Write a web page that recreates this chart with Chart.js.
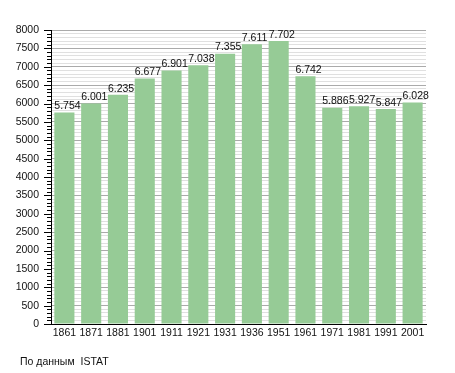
<!DOCTYPE html>
<html>
<head>
<meta charset="utf-8">
<style>
html,body{margin:0;padding:0;background:#fff;}
canvas{display:block;}
</style>
<script src="https://cdn.jsdelivr.net/npm/chart.js@4/dist/chart.umd.min.js"></script>
</head>
<body>
<canvas id="c" width="455" height="373"></canvas>
<script>
const years = ["1861","1871","1881","1901","1911","1921","1931","1936","1951","1961","1971","1981","1991","2001"];
const population = [5754, 6001, 6235, 6677, 6901, 7038, 7355, 7611, 7702, 6742, 5886, 5927, 5847, 6028];
const yTickValues = [0,500,1000,1500,2000,2500,3000,3500,4000,4500,5000,5500,6000,6500,7000,7500,8000];
const sourceNote = "По данным  ISTAT";

const FONT = "'Liberation Sans', Arial, sans-serif";
const fmt = v => { const s = String(v); return s.length > 3 ? s.slice(0, s.length-3) + "." + s.slice(-3) : s; };

const extras = {
  id: 'extras',
  afterDraw(chart) {
    const ctx = chart.ctx, y = chart.scales.y, area = chart.chartArea;
    ctx.save();
    // tick marks
    ctx.strokeStyle = '#000';
    ctx.lineWidth = 1;
    for (let v = 0; v <= 8000; v += 100) {
      const py = Math.round(y.getPixelForValue(v)) + 0.5;
      const len = (v % 500 === 0) ? 7 : 4;
      ctx.beginPath();
      ctx.moveTo(area.left - len, py);
      ctx.lineTo(area.left, py);
      ctx.stroke();
    }
    // value labels
    ctx.fillStyle = '#111';
    ctx.font = "10.5px " + FONT;
    ctx.textAlign = 'left';
    ctx.textBaseline = 'bottom';
    const meta = chart.getDatasetMeta(0);
    meta.data.forEach((bar, i) => {
      ctx.fillText(fmt(population[i]), bar.x - bar.width/2, bar.y - 1);
    });
    // source note
    ctx.textBaseline = 'middle';
    ctx.fillText(sourceNote, 20, 362);
    ctx.restore();
  }
};

new Chart(document.getElementById('c'), {
  type: 'bar',
  data: {
    labels: years,
    datasets: [{
      data: population,
      backgroundColor: 'rgb(150,203,150)',
      borderWidth: 0,
      categoryPercentage: 1,
      barPercentage: 0.75
    }]
  },
  options: {
    responsive: false,
    animation: false,
    layout: { padding: { top: 30, right: 29, bottom: 25, left: 0 } },
    plugins: { legend: { display: false }, tooltip: { enabled: false } },
    scales: {
      x: {
        grid: { display: false, drawTicks: false },
        border: { color: '#000', width: 1 },
        ticks: { color: '#111', font: { family: FONT, size: 10.5 }, padding: 3, maxRotation: 0, autoSkip: false },
        afterFit(s) { s.height = 24; }
      },
      y: {
        min: 0, max: 8000,
        afterBuildTicks(s) {
          const t = [];
          for (let v = 0; v <= 8000; v += 100) t.push({ value: v });
          s.ticks = t;
        },
        grid: {
          drawTicks: false,
          color: c => (c.tick && c.tick.value % 500 === 0) ? '#aaaaaa' : '#e0e0e0',
          lineWidth: 1
        },
        border: { color: '#000', width: 1 },
        ticks: {
          color: '#111',
          font: { family: FONT, size: 10.5 },
          padding: 12,
          autoSkip: false,
          callback: v => (yTickValues.includes(v) ? String(v) : '')
        },
        afterFit(s) { s.width = 51; }
      }
    }
  },
  plugins: [extras]
});
</script>
</body>
</html>
